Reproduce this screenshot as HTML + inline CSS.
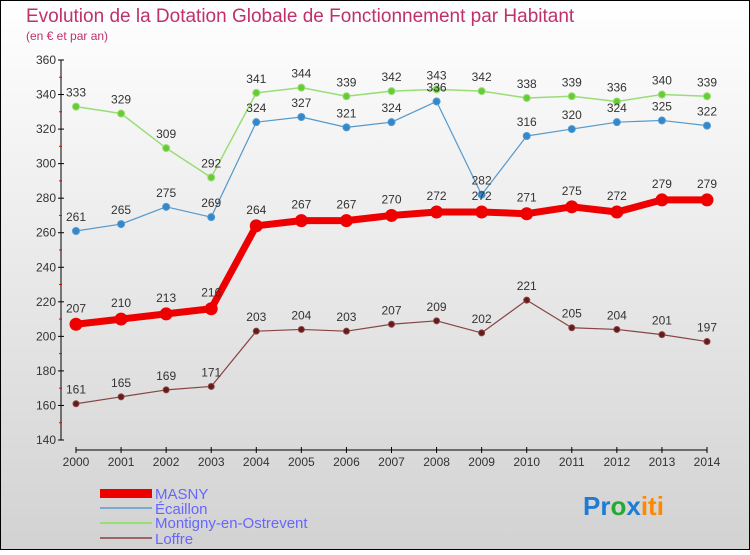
<!DOCTYPE html>
<html><head><meta charset="utf-8"><style>
body{margin:0;width:750px;height:550px;overflow:hidden;font-family:"Liberation Sans",sans-serif}
</style></head><body>
<svg width="750" height="550" viewBox="0 0 750 550" id="chart">
<defs><linearGradient id="bg" x1="0" y1="0" x2="0" y2="1"><stop offset="0" stop-color="#ffffff"/><stop offset="1" stop-color="#d2d2d2"/></linearGradient></defs>
<rect x="0.5" y="0.5" width="749" height="549" fill="url(#bg)" stroke="#000"/>
<text x="26" y="22" font-size="19" fill="#c0306a">Evolution de la Dotation Globale de Fonctionnement par Habitant</text>
<text x="26" y="40" font-size="12" fill="#c0306a">(en € et par an)</text>
<g id="axes"></g><g id="series"></g>
<g>
<rect x="100" y="489" width="52" height="9" fill="#e00"/>
<text x="155" y="499" font-size="15" fill="#6666ff">MASNY</text>
<rect x="100" y="507" width="52" height="2" fill="#7aaad0"/>
<text x="155" y="514" font-size="15" fill="#6666ff">Écaillon</text>
<rect x="100" y="522" width="52" height="2" fill="#99dd77"/>
<text x="155" y="528" font-size="15" fill="#6666ff">Montigny-en-Ostrevent</text>
<rect x="100" y="537" width="52" height="2" fill="#996666"/>
<text x="155" y="544" font-size="15" fill="#6666ff">Loffre</text>
</g>
<text x="583" y="515" font-size="26" font-weight="bold"><tspan fill="#1e7bd6">Pr</tspan><tspan fill="#22aa33">o</tspan><tspan fill="#1e7bd6">x</tspan><tspan fill="#ff8800">iti</tspan></text>
</svg>
<script>
const years=[2000,2001,2002,2003,2004,2005,2006,2007,2008,2009,2010,2011,2012,2013,2014];
const masny=[207,210,213,216,264,267,267,270,272,272,271,275,272,279,279];
const ecaillon=[261,265,275,269,324,327,321,324,336,282,316,320,324,325,322];
const montigny=[333,329,309,292,341,344,339,342,343,342,338,339,336,340,339];
const loffre=[161,165,169,171,203,204,203,207,209,202,221,205,204,201,197];
const yTicks=[140,160,180,200,220,240,260,280,300,320,340,360];
const NS="http://www.w3.org/2000/svg";
function xs(i){return 76+i*(707-76)/(years.length-1);}
function ys(v){return 440-(v-140)*380/220;}
function mk(t,a,p){const e=document.createElementNS(NS,t);for(const k in a)e.setAttribute(k,a[k]);p.appendChild(e);return e;}
const ax=document.getElementById('axes');
let l=mk('line',{x1:61,y1:60,x2:61,y2:440,stroke:'#000'},ax);


yTicks.forEach((v,k)=>{const y=ys(v);
 mk('line',{x1:58,y1:y,x2:64,y2:y,stroke:'#000'},ax);
 if(k<yTicks.length-1) mk('line',{x1:59,y1:y-17.3,x2:62,y2:y-17.3,stroke:'#e00'},ax);
 const t=mk('text',{x:56,y:y+4,'font-size':12,fill:'#333','text-anchor':'end'},ax);t.textContent=v;
 
 });
l=mk('line',{x1:76,y1:450,x2:707,y2:450,stroke:'#000'},ax);


years.forEach((yr,i)=>{const x=xs(i);
 mk('line',{x1:x,y1:447,x2:x,y2:453,stroke:'#000'},ax);
 const t=mk('text',{x:x,y:466,'font-size':12,fill:'#333','text-anchor':'middle'},ax);t.textContent=yr;
 
 });
const sg=document.getElementById('series');
function draw(name,data,col,dot,w,r,labOff){
 const g=mk('g',{},sg);
 
 
 const pl=mk('polyline',{points:data.map((v,i)=>xs(i)+','+ys(v)).join(' '),fill:'none',stroke:col,'stroke-width':w,'stroke-linejoin':'round'},g);
 
 
 data.forEach((v,i)=>{
  const c=mk('circle',{cx:xs(i),cy:ys(v),r:r,fill:dot,stroke:col,'stroke-width':1},g);
  
  
  const t=mk('text',{x:xs(i),y:ys(v)+labOff,'font-size':12,fill:'#333','text-anchor':'middle'},g);t.textContent=v;
  
  });
}
draw('loffre',loffre,'#884444','#661a1a',1.2,3,-10);
draw('montigny',montigny,'#99dd77','#66cc33',1.5,3.5,-10);
draw('ecaillon',ecaillon,'#5599cc','#3388cc',1.2,3.5,-10);
draw('masny',masny,'#ee0000','#ee0000',7,6,-12);
</script>
</body></html>
